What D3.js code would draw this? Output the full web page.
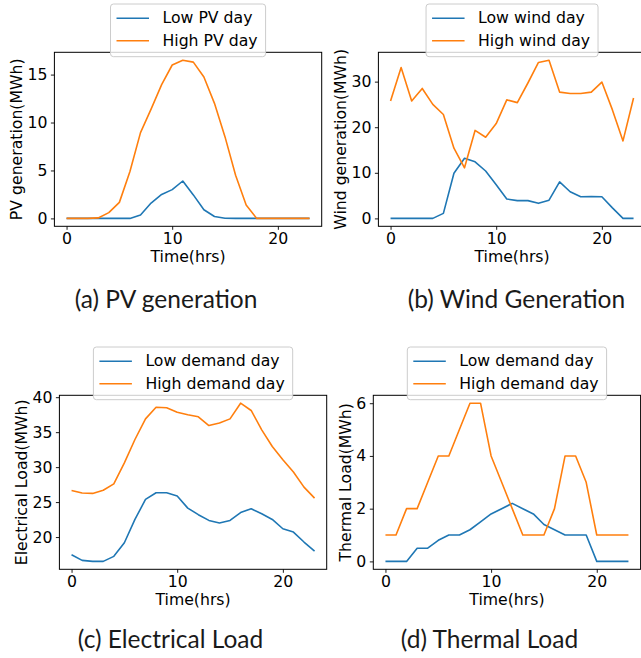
<!DOCTYPE html>
<html>
<head>
<meta charset="utf-8">
<script src="https://cdn.jsdelivr.net/npm/d3@7"></script>
<style>
    body { margin: 0; background: #fff; }
    svg { display: block; }
    text { font-family: "DejaVu Sans", sans-serif; fill: #000; }
    .caption { font-family: Lato, "Open Sans", sans-serif; fill: #1a1a1a; }
</style>
</head>
<body>
<script>
// hours of the day
var hours = [0,1,2,3,4,5,6,7,8,9,10,11,12,13,14,15,16,17,18,19,20,21,22,23],
    xTicks = [0, 10, 20];

// (a) PV generation
var pvLow  = [0,0,0,0,0,0,0,0.35,1.6,2.5,3.0,3.9,2.45,0.9,0.2,0.02,0,0,0,0,0,0,0,0],
    pvHigh = [0,0,0,0.05,0.6,1.67,4.9,8.95,11.4,13.95,16.0,16.5,16.3,14.75,12.0,8.5,4.5,1.4,0,0,0,0,0,0],
    pvTicks = [0, 5, 10, 15];

// (b) wind generation
var windLow  = [0,0,0,0,0,1.1,9.9,13.2,12.4,10.4,7.4,4.25,3.9,3.9,3.3,4.0,8.0,5.85,4.75,4.8,4.75,2.3,0,0],
    windHigh = [25.75,33.1,25.75,28.5,25.0,22.8,15.4,11.1,19.3,17.8,20.8,26.0,25.4,29.7,34.2,34.7,27.7,27.4,27.4,27.7,29.9,23.8,17.0,26.4],
    windTicks = [0, 10, 20, 30];

// (c) electrical load
var elecLow  = [17.48,16.67,16.52,16.52,17.24,19.19,22.52,25.38,26.33,26.33,25.86,24.14,23.2,22.38,22.0,22.38,23.5,24.05,23.33,22.52,21.19,20.71,19.29,18.0],
    elecHigh = [26.67,26.3,26.24,26.7,27.6,30.6,33.95,36.9,38.57,38.5,37.86,37.5,37.2,35.95,36.3,36.9,39.14,38.1,35.33,32.95,31.05,29.3,27.14,25.57],
    elecTicks = [20, 25, 30, 35, 40];

// (d) thermal load
var thermLow  = [0,0,0,0.5,0.5,0.8,1,1,1.2,1.5,1.8,2.0,2.2,2.0,1.8,1.4,1.2,1,1,1,0,0,0,0],
    thermHigh = [1,1,2,2,3,4,4,5,6,6,4,3,2,1,1,1,2,4,4,3,1,1,1,1],
    thermTicks = [0, 2, 4, 6];

var colors = ['#1f77b4', '#ff7f0e'],
    fontsize = 15.7;

var panels = [
    {left: 54.4,  top: 52.3,  ylabel: 'PV generation(MWh)',   series: [pvLow, pvHigh],     names: ['Low PV day', 'High PV day'],         ticks: pvTicks,    caption: '(a) PV generation',   cx: 166,   cy: 308.3},
    {left: 378.4, top: 52.3,  ylabel: 'Wind generation(MWh)', series: [windLow, windHigh], names: ['Low wind day', 'High wind day'],     ticks: windTicks,  caption: '(b) Wind Generation', cx: 516.4, cy: 308.3},
    {left: 59.4,  top: 395.3, ylabel: 'Electrical Load(MWh)', series: [elecLow, elecHigh], names: ['Low demand day', 'High demand day'], ticks: elecTicks,  caption: '(c) Electrical Load', cx: 170.5, cy: 648},
    {left: 373.3, top: 395.3, ylabel: 'Thermal Load(MWh)',    series: [thermLow, thermHigh], names: ['Low demand day', 'High demand day'], ticks: thermTicks, caption: '(d) Thermal Load',  cx: 489.5, cy: 648}
];

var width = 267.3,
    height = 174;

var svg = d3.select('body').append('svg')
    .attr('width', 641)
    .attr('height', 658);

panels.forEach(function(p) {
    var xScale = d3.scaleLinear(),
        yScale = d3.scaleLinear(),
        all = p.series[0].concat(p.series[1]),
        ext = d3.extent(all),
        xpad = (d3.max(hours) - d3.min(hours))*0.05,
        ypad = (ext[1]-ext[0])*0.05,
        g = svg.append('g').attr('transform', 'translate('+p.left+','+p.top+')');

    xScale.domain([d3.min(hours)-xpad, d3.max(hours)+xpad]).range([0, width]);
    yScale.domain([ext[0]-ypad, ext[1]+ypad]).range([height, 0]);

    // clip for lines
    var clipId = 'clip'+Math.round(p.left);
    g.append('clipPath').attr('id', clipId)
        .append('rect').attr('width', width).attr('height', height);

    var line = d3.line()
        .x(function(d, i) { return xScale(hours[i]); })
        .y(function(d) { return yScale(d); });

    g.append('g')
        .attr('clip-path', 'url(#'+clipId+')')
        .selectAll('path')
        .data(p.series)
        .enter()
        .append('path')
        .attr('d', line)
        .attr('fill', 'none')
        .attr('stroke', function(d, i) { return colors[i]; })
        .attr('stroke-width', 1.6)
        .attr('stroke-linejoin', 'round');

    // axes
    var xAxis = g.append('g')
        .attr('transform', 'translate(0,'+height+')')
        .call(d3.axisBottom(xScale).tickValues(xTicks).tickFormat(d3.format('d')).tickSizeInner(3.5).tickSizeOuter(0).tickPadding(3.5));
    var yAxis = g.append('g')
        .call(d3.axisLeft(yScale).tickValues(p.ticks).tickFormat(d3.format('d')).tickSizeInner(3.5).tickSizeOuter(0).tickPadding(3.5));

    [xAxis, yAxis].forEach(function(a) {
        a.select('.domain').remove();
        a.selectAll('text').style('font-size', fontsize+'px').style('font-family', '"DejaVu Sans", sans-serif').attr('fill', '#000');
        a.selectAll('line').attr('stroke', '#000').attr('stroke-width', 0.9);
    });

    // spines
    g.append('rect')
        .attr('width', width)
        .attr('height', height)
        .attr('fill', 'none')
        .attr('stroke', '#000')
        .attr('stroke-width', 1);

    g.append('text')
        .text('Time(hrs)')
        .attr('x', width/2)
        .attr('y', height+35.5)
        .style('font-size', fontsize+'px')
        .style('text-anchor', 'middle');

    var ybox = yAxis.node().getBBox();
    g.append('text')
        .text(p.ylabel)
        .attr('transform', 'translate('+(ybox.x-5.3)+','+(height/2)+') rotate(-90)')
        .style('font-size', fontsize+'px')
        .style('text-anchor', 'middle');

    // legend
    var legend = g.append('g'),
        frame = legend.append('rect'),
        items = legend.selectAll('g')
            .data(p.names)
            .enter()
            .append('g')
            .attr('transform', function(d, i) { return 'translate(0,'+(14.3+22.4*i)+')'; });

    items.append('line')
        .attr('x1', 6).attr('x2', 38.5)
        .attr('stroke', function(d, i) { return colors[i]; })
        .attr('stroke-width', 1.6);

    var labels = items.append('text')
        .text(function(d) { return d; })
        .attr('x', 52)
        .attr('y', 5)
        .style('font-size', fontsize+'px');

    var tw = d3.max(labels.nodes(), function(n) { return n.getComputedTextLength(); }),
        lw = 52+tw+8;

    frame
        .attr('width', lw)
        .attr('height', 52.7)
        .attr('rx', 3)
        .attr('fill', '#fff')
        .attr('fill-opacity', 0.8)
        .attr('stroke', '#cccccc')
        .attr('stroke-width', 1);

    legend.attr('transform', 'translate('+(width/2-lw/2)+','+(-48.3)+')');

    svg.append('text')
        .attr('class', 'caption')
        .text(p.caption)
        .attr('x', p.cx)
        .attr('y', p.cy)
        .style('font-size', '24.5px')
        .style('text-anchor', 'middle');
});
</script>
</body>
</html>
